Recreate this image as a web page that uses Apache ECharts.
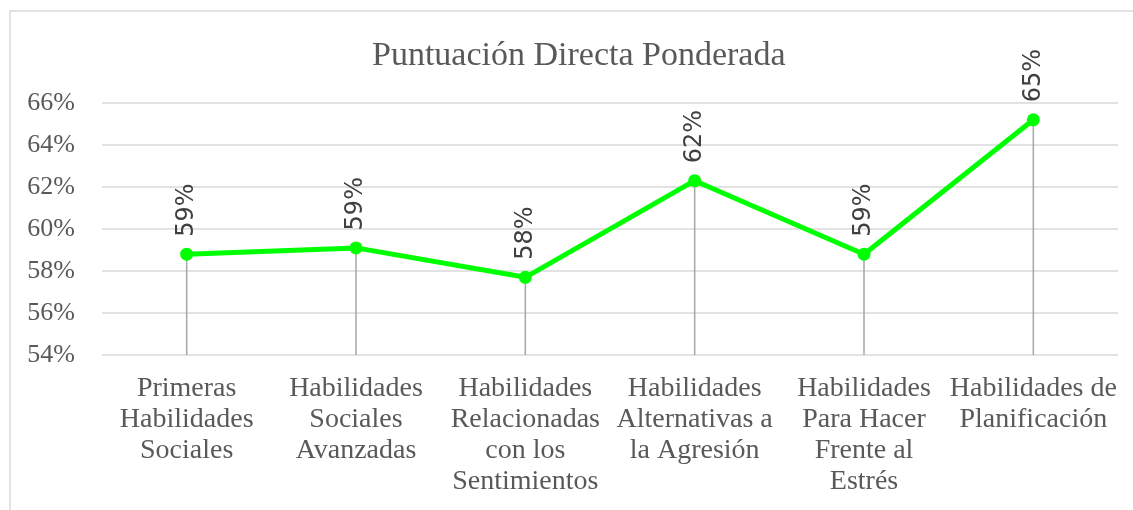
<!DOCTYPE html>
<html>
<head>
<meta charset="utf-8">
<style>
html,body{margin:0;padding:0;background:#fff;}
#chart{width:1133px;height:510px;}
</style>
<script src="https://cdn.jsdelivr.net/npm/echarts@6/dist/echarts.min.js"></script>
</head>
<body>
<div id="chart"></div>
<script>
const title = 'Puntuación Directa Ponderada';
const categories = [
  'Primeras\nHabilidades\nSociales',
  'Habilidades\nSociales\nAvanzadas',
  'Habilidades\nRelacionadas\ncon los\nSentimientos',
  'Habilidades\nAlternativas a\nla Agresión',
  'Habilidades\nPara Hacer\nFrente al\nEstrés',
  'Habilidades de\nPlanificación'
];
const values = [58.8, 59.1, 57.7, 62.3, 58.8, 65.2];
const yMin = 54, yMax = 66, yStep = 2;

const chart = echarts.init(document.getElementById('chart'), null, {renderer: 'canvas'});
const serif = '"Liberation Serif", "Times New Roman", serif';
chart.setOption({
  animation: false,
  backgroundColor: '#fff',
  graphic: [{
    type: 'rect', z: -1,
    shape: {x: 10, y: 11, width: 1200, height: 600},
    style: {fill: 'none', stroke: '#d9d9d9', lineWidth: 1.5}
  }],
  title: {
    text: title, left: 367, top: 34,
    textStyle: {fontFamily: serif, fontSize: 34, fontWeight: 'normal', color: '#595959'}
  },
  grid: {left: 102, right: 15, top: 103, bottom: 155},
  xAxis: {
    type: 'category', data: categories, boundaryGap: true,
    axisLine: {show: false}, axisTick: {show: false},
    axisLabel: {interval: 0, margin: 18, fontFamily: serif, fontSize: 28, lineHeight: 31, color: '#595959', verticalAlign: 'top'}
  },
  yAxis: {
    type: 'value', min: yMin, max: yMax, interval: yStep,
    axisLine: {show: false}, axisTick: {show: false},
    splitLine: {lineStyle: {color: '#d9d9d9', width: 1.5}},
    axisLabel: {margin: 27, fontFamily: serif, fontSize: 26, color: '#595959', formatter: v => v + '%'}
  },
  series: [{
    type: 'custom',
    z: 1,
    data: values.map((v, i) => [i, v]),
    renderItem: (params, api) => {
      const p1 = api.coord([api.value(0), api.value(1)]);
      const p2 = api.coord([api.value(0), yMin]);
      return {type: 'line', shape: {x1: p1[0], y1: p1[1], x2: p2[0], y2: p2[1]},
        style: {stroke: '#a6a6a6', lineWidth: 1.5}};
    }
  }, {
    type: 'line', z: 3,
    data: values,
    symbol: 'circle', symbolSize: 13,
    lineStyle: {color: '#00ff00', width: 5},
    itemStyle: {color: '#00ff00'},
    label: {
      show: true, position: 'top', distance: 11, rotate: 90,
      align: 'left', verticalAlign: 'middle',
      fontFamily: '"DejaVu Sans", sans-serif', fontSize: 24, color: '#404040',
      formatter: p => Math.round(p.value) + '%'
    }
  }]
});
</script>
</body>
</html>
